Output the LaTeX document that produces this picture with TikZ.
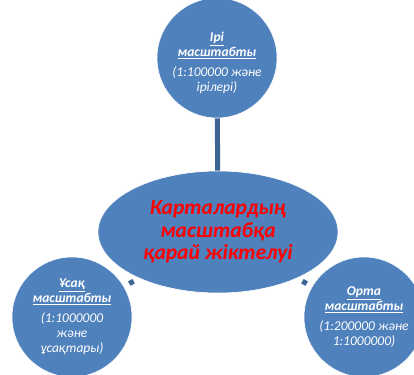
\documentclass[tikz,border=0pt]{standalone}
\usepackage{fontspec}
\setmainfont{Carlito}
\usepackage{tikz}
\usetikzlibrary{shapes.geometric}
\definecolor{bubble}{HTML}{4F81BD}
\definecolor{stem}{HTML}{3E6494}
\tikzstyle{scalebubble} = [circle, fill=bubble, draw=white, line width=0.6pt,
    minimum size=120pt, inner sep=0pt, text=white, align=center,
    font=\fontsize{13.5}{15}\selectfont\itshape]
\tikzstyle{hub} = [ellipse, fill=bubble, draw=white, line width=0.6pt,
    minimum width=240pt, minimum height=122pt, inner sep=0pt, text=red,
    align=center, font=\fontsize{21.5}{22.5}\selectfont\bfseries\itshape]
\tikzstyle{line} = [draw=stem, line width=5pt]
\newcommand{\scalehead}[1]{\textbf{\underline{#1}}}

\begin{document}
\begin{tikzpicture}[x=1pt, y=-1pt]
  \useasboundingbox (0,0) rectangle (414,374);
  \clip (0,0) rectangle (414,374);
   % Place nodes
    \node [hub] (class) at (218,232) {Карталардың\\масштабқа\\қарай жіктелуі};
    \node [scalebubble] (large) at (217,58)
      {\rule{0pt}{20pt}\scalehead{Ірі}\\\scalehead{масштабты}\\[5pt](1:100000 және\\ірілері)};
    \node [scalebubble] (small) at (72,317)
      {\scalehead{Ұсақ}\\\scalehead{масштабты}\\[5pt](1:1000000\\және\\ұсақтары)};
    \node [scalebubble] (medium) at (364,317)
      {\scalehead{Орта}\\\scalehead{масштабты}\\[5pt](1:200000 және\\1:1000000)};
   % Draw edges
    \path [line] (class) -- (large);
    \path [line, shorten <=6pt, shorten >=6pt] (class) -- (small);
    \path [line, shorten <=6pt, shorten >=6pt] (class) -- (medium);
\end{tikzpicture}
\end{document}
